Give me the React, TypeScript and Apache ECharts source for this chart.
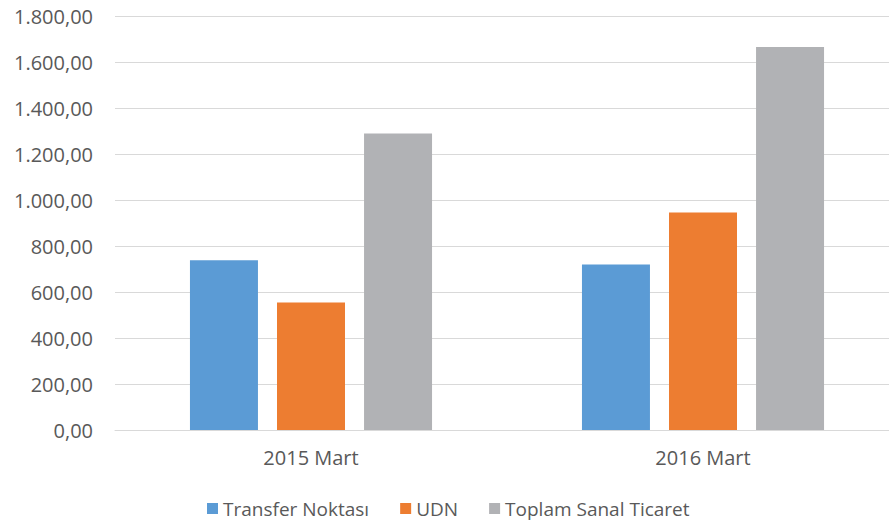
import React, { useEffect, useRef } from "react";
import * as echarts from "echarts";

const categories = ["2015 Mart", "2016 Mart"];
const transferNoktasi = [738, 720];
const udn = [554, 946];
const toplamSanalTicaret = [1289, 1665];
const seriesNames = ["Transfer Noktası", "UDN", "Toplam Sanal Ticaret"];
const colors = ["#5b9bd5", "#ed7d31", "#b1b2b5"];

function formatTr(v: number): string {
  const fixed = v.toFixed(2);
  const [intPart, dec] = fixed.split(".");
  const withDots = intPart.replace(/\B(?=(\d{3})+(?!\d))/g, ".");
  return withDots + "," + dec;
}

const FONT = "'Open Sans', 'Noto Sans', sans-serif";

export default function App() {
  const ref = useRef<HTMLDivElement>(null);
  useEffect(() => {
    if (!ref.current) return;
    const chart = echarts.init(ref.current, undefined, { renderer: "svg" });
    const values = [transferNoktasi, udn, toplamSanalTicaret];
    chart.setOption({
      animation: false,
      backgroundColor: "#ffffff",
      grid: { left: 115, top: 16, right: 0, height: 414, containLabel: false },
      legend: {
        bottom: 2,
        left: 202,
        itemWidth: 11,
        itemHeight: 11,
        itemGap: 31,
        icon: "rect",
        textStyle: { color: "#595959", fontSize: 19, fontFamily: FONT },
        data: seriesNames,
      },
      xAxis: {
        type: "category",
        data: categories,
        axisLine: { lineStyle: { color: "#d9d9d9", width: 1 } },
        axisTick: { show: false },
        axisLabel: { color: "#595959", fontSize: 20, fontFamily: FONT, margin: 17 },
      },
      yAxis: {
        type: "value",
        min: 0,
        max: 1800,
        interval: 200,
        axisLine: { show: false },
        axisTick: { show: false },
        splitLine: { lineStyle: { color: "#d9d9d9", width: 1 } },
        axisLabel: {
          color: "#595959",
          fontSize: 20,
          fontFamily: FONT,
          margin: 22,
          formatter: (v: number) => formatTr(v),
        },
      },
      series: seriesNames.map((name, i) => ({
        name,
        type: "bar",
        data: values[i],
        barWidth: 68,
        barGap: "28%",
        itemStyle: { color: colors[i] },
      })),
    });
    return () => chart.dispose();
  }, []);
  return (
    <div style={{ position: "fixed", top: 0, left: 0, width: 889, height: 525, overflow: "hidden", background: "#fff" }}>
      <div ref={ref} style={{ width: 899, height: 525 }} />
    </div>
  );
}
